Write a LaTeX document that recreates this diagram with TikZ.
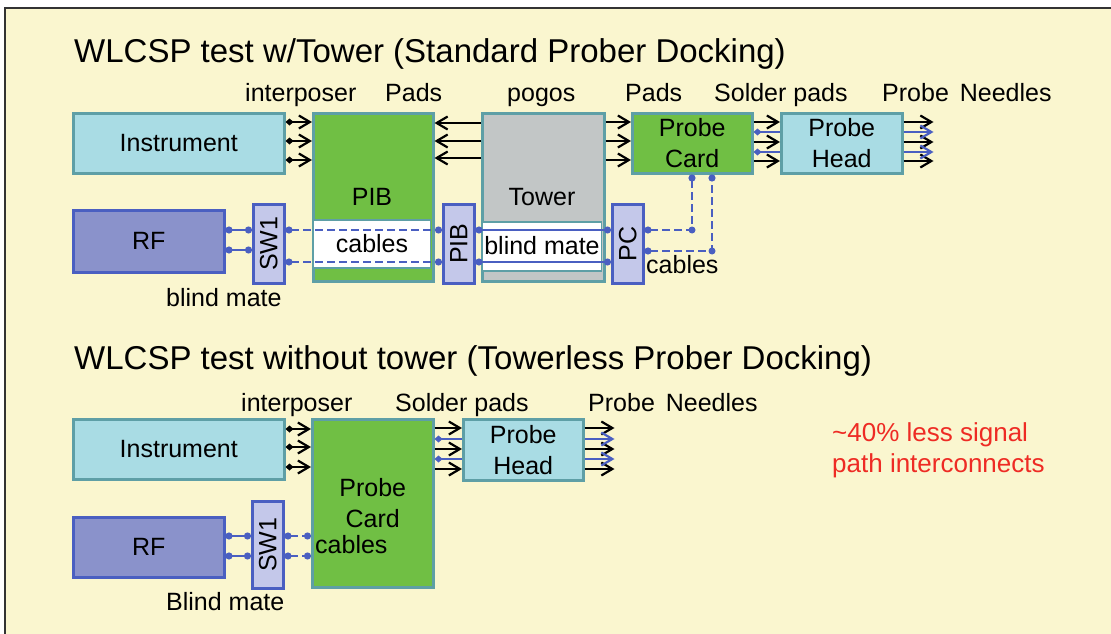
\documentclass[tikz,border=0pt]{standalone}
\usepackage{fontspec}
\setmainfont{Liberation Sans}
\usetikzlibrary{arrows.meta,calc}
\definecolor{bg}{HTML}{FAF6CF}
\definecolor{lblue}{HTML}{A9DCE4}
\definecolor{tealb}{HTML}{5E9FA6}
\definecolor{grn}{HTML}{70BF44}
\definecolor{gry}{HTML}{C2C6C6}
\definecolor{rfc}{HTML}{8A92CB}
\definecolor{blu}{HTML}{4A5FC1}
\definecolor{lav}{HTML}{C4C8EA}
\definecolor{redt}{HTML}{EE2B24}
\newcommand{\fsL}{\fontsize{25}{31}\selectfont}
\newcommand{\fsT}{\fontsize{33}{38}\selectfont}
\newcommand{\fsR}{\fontsize{26}{32}\selectfont}
\begin{document}
\begin{tikzpicture}[x=1pt,y=-1pt,
  box/.style={draw=tealb, line width=2.5pt, inner sep=0pt, anchor=north west, font=\fsL, align=center},
  bbox/.style={box, draw=blu},
  strip/.style={draw=tealb, line width=1.2pt, fill=white},
  lbl/.style={font=\fsL, anchor=base west, inner sep=0pt},
  ttl/.style={font=\fsT, anchor=base west, inner sep=0pt},
  tip/.style={-{Straight Barb[length=11pt,width=13pt,line width=2.2pt]}},
  arr/.style={line width=2.2pt, tip},
  darr/.style={line width=2.2pt, {Diamond[length=8pt,width=7pt]}-{Straight Barb[length=11pt,width=13pt,line width=2.2pt]}},
  barr/.style={blu, line width=2.2pt, tip},
  bl/.style={blu, line width=2.2pt, {Circle[length=7pt]}-{Circle[length=7pt]}},
  bln/.style={blu, line width=2.2pt, {Diamond[length=8pt,width=7pt]}-},
  bld/.style={bl, dash pattern=on 8pt off 4pt},
  dot/.style={fill=blu}
]
\useasboundingbox (0,0) rectangle (1111,634);
\fill[white] (0,0) rectangle (1111,634);
\fill[bg] (5,8) rectangle (1111,634);
\draw[line width=2pt, black!80] (5,634) -- (5,8) -- (1111,8);

% ---------- top section ----------
\node[ttl] (t1) at (74,63) {WLCSP test w/Tower (Standard Prober Docking)};
\node[lbl] (l1) at (245,101) {interposer};
\node[lbl] (l2) at (385,101) {Pads};
\node[lbl] (l3) at (507,101) {pogos};
\node[lbl] (l4) at (625,101) {Pads};
\node[lbl] (l5) at (714,101) {Solder pads};
\node[lbl] (l6) at (882,101) {Probe\hspace{4pt} Needles};

\node[box, fill=lblue, minimum width=211pt, minimum height=60pt] (inst) at (72,112) {Instrument};
\node[box, fill=grn, minimum width=120pt, minimum height=168pt] (pib) at (312,112) {};
\draw[strip] (313.5,220) rectangle (430.5,268);
\node[font=\fsL] (pibt) at (372,197) {PIB};
\node[font=\fsL] (cab1) at (372,244) {cables};

\node[box, fill=gry, minimum width=122pt, minimum height=168pt] (tower) at (481,112) {};
\draw[strip] (482.5,222) rectangle (601.5,271);
\node[font=\fsL] (towt) at (542,197) {Tower};
\node[font=\fsL] (bm1) at (542,246) {blind mate};

\node[box, fill=grn, minimum width=120pt, minimum height=60pt] (pcard) at (631,112) {Probe\\Card};
\node[box, fill=lblue, minimum width=121pt, minimum height=60pt] (phead) at (780,112) {Probe\\Head};

\node[bbox, fill=rfc, minimum width=151pt, minimum height=62pt] (rf) at (72,209) {RF};
\node[bbox, fill=lav, minimum width=31pt, minimum height=79pt] (sw1) at (252,203) {\rotatebox{90}{SW1}};
\node[bbox, fill=lav, minimum width=31pt, minimum height=79pt] (pibs) at (442,203) {\rotatebox{90}{PIB}};
\node[bbox, fill=lav, minimum width=31pt, minimum height=79pt] (pc) at (611,203) {\rotatebox{90}{PC}};

\node[lbl] (bmt) at (166,306) {blind mate};
\node[lbl] (cab2) at (646,273) {cables};

% arrows top
\foreach \yy in {122,141,160}{
  \draw[darr] (inst.east |- 0,\yy) -- (pib.west |- 0,\yy);
  \draw[arr] (tower.east |- 0,\yy) -- (pcard.west |- 0,\yy);
}
\foreach \yy in {123,141,158}{
  \draw[arr] (tower.west |- 0,\yy) -- (pib.east |- 0,\yy);
}
\foreach \yy in {122,142,161}{
  \draw[arr] (pcard.east |- 0,\yy) -- (phead.west |- 0,\yy);
  \draw[arr] (phead.east |- 0,\yy) -- ++(30,0) coordinate (n\yy);
}
\foreach \yy in {132,152}{
  \draw[bln] (pcard.east |- 0,\yy) -- (phead.west |- 0,\yy);
  \draw[barr] (phead.east |- 0,\yy) -- ++(30,0) coordinate (m\yy);
}
% RF lines
\foreach \yy in {230,250}{
  \draw[bl] (rf.east |- 0,\yy) -- (sw1.west |- 0,\yy);
}
\foreach \yy in {230,262}{
  \draw[bld] (sw1.east |- 0,\yy) -- (pibs.west |- 0,\yy);
  \draw[bl] (pibs.east |- 0,\yy) -- (pc.west |- 0,\yy);
}
\coordinate (c1) at (692,230);
\coordinate (c2) at (712,251);
\draw[bld] (pc.east |- c1) -- (c1) -- (c1 |- pcard.south);
\draw[bld] (pc.east |- c2) -- (c2) -- (c2 |- pcard.south);
\fill[dot] (c1) circle (3.5pt);
\fill[dot] (c2) circle (3.5pt);

% ---------- bottom section ----------
\node[ttl] (t2) at (74,369) {WLCSP test without tower (Towerless Prober Docking)};
\node[lbl] (k1) at (241,411) {interposer};
\node[lbl] (k2) at (395,411) {Solder pads};
\node[lbl] (k3) at (588,411) {Probe\hspace{4pt} Needles};

\node[box, fill=lblue, minimum width=211pt, minimum height=60pt] (inst2) at (72,418) {Instrument};
\node[box, fill=grn, minimum width=121pt, minimum height=168pt] (pcard2) at (311,418) {Probe\\Card};
\node[lbl] (cab3) at (315,553) {cables};
\node[box, fill=lblue, minimum width=120pt, minimum height=61pt] (phead2) at (462,418) {Probe\\Head};
\node[bbox, fill=rfc, minimum width=151pt, minimum height=60pt] (rf2) at (72,516) {RF};
\node[bbox, fill=lav, minimum width=31pt, minimum height=87pt] (sw2) at (251,500) {\rotatebox{90}{SW1}};
\node[lbl] (bmt2) at (166,610) {Blind mate};

\foreach \yy in {429,447,467}{
  \draw[darr] (inst2.east |- 0,\yy) -- (pcard2.west |- 0,\yy);
}
\foreach \yy in {428,449,469}{
  \draw[arr] (pcard2.east |- 0,\yy) -- (phead2.west |- 0,\yy);
  \draw[arr] (phead2.east |- 0,\yy) -- ++(30,0) coordinate (p\yy);
}
\foreach \yy in {439,459}{
  \draw[bln] (pcard2.east |- 0,\yy) -- (phead2.west |- 0,\yy);
  \draw[barr] (phead2.east |- 0,\yy) -- ++(30,0) coordinate (q\yy);
}
\foreach \yy in {536,556}{
  \draw[bl] (rf2.east |- 0,\yy) -- (sw2.west |- 0,\yy);
  \draw[bld] (sw2.east |- 0,\yy) -- (pcard2.west |- 0,\yy);
}

\node[font=\fsR, text=redt, anchor=base west, inner sep=0pt] (note) at (832,441) {\textasciitilde40\% less signal};
\node[font=\fsR, text=redt, anchor=base west, inner sep=0pt] (note2) at (832,472) {path interconnects};
\end{tikzpicture}
\end{document}
